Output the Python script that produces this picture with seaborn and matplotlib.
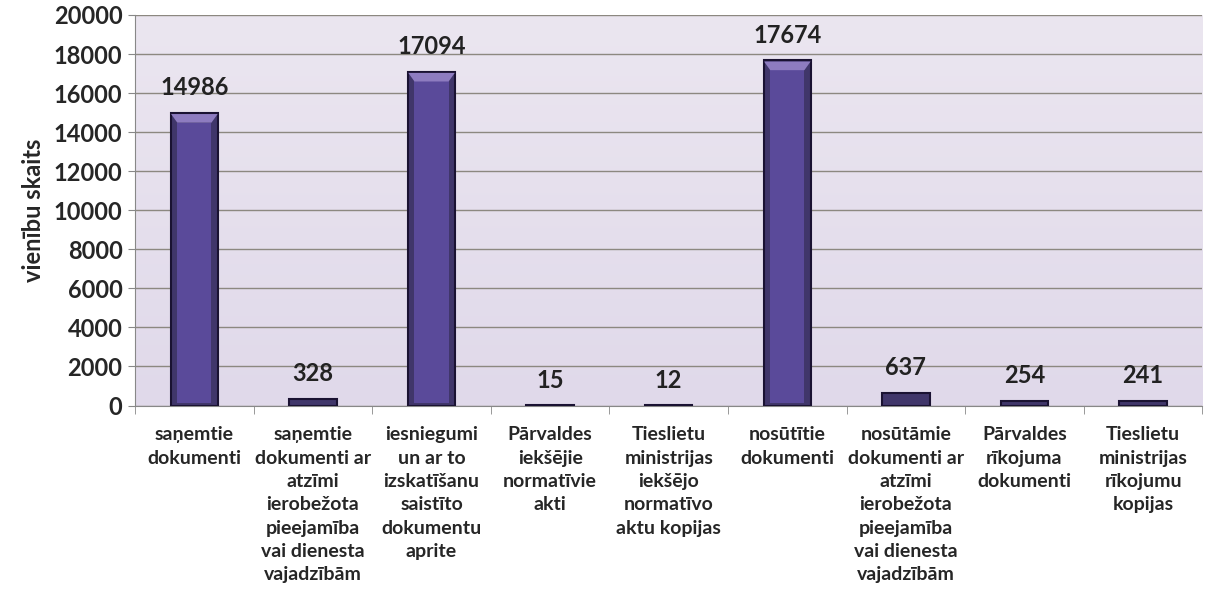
import numpy as np
import pandas as pd
import seaborn as sns
import matplotlib.pyplot as plt

# Données du graphique
kategorijas = [
    "saņemtie\ndokumenti",
    "saņemtie\ndokumenti ar\natzīmi\nierobežota\npieejamība\nvai dienesta\nvajadzībām",
    "iesniegumi\nun ar to\nizskatīšanu\nsaistīto\ndokumentu\naprite",
    "Pārvaldes\niekšējie\nnormatīvie\nakti",
    "Tieslietu\nministrijas\niekšējo\nnormatīvo\naktu kopijas",
    "nosūtītie\ndokumenti",
    "nosūtāmie\ndokumenti ar\natzīmi\nierobežota\npieejamība\nvai dienesta\nvajadzībām",
    "Pārvaldes\nrīkojuma\ndokumenti",
    "Tieslietu\nministrijas\nrīkojumu\nkopijas",
]
vertibas = [14986, 328, 17094, 15, 12, 17674, 637, 254, 241]
y_ticks = list(range(0, 20001, 2000))

df = pd.DataFrame({"kategorija": kategorijas, "skaits": vertibas})

sns.set_style("white")
plt.rcParams["font.family"] = ["Lato", "DejaVu Sans"]
plt.rcParams["font.weight"] = "bold"

fig = plt.figure(figsize=(12.06, 5.99), dpi=100)
ax = fig.add_axes([0.112, 0.323, 0.885, 0.652])

# Fond dégradé lavande
grad = np.linspace(0, 1, 256).reshape(-1, 1)
ax.imshow(grad, extent=[-0.5, 8.5, 0, 20000], aspect="auto",
          cmap=plt.matplotlib.colors.LinearSegmentedColormap.from_list(
              "bg", ["#ebe6f0", "#e0d9ea"]), zorder=0)

sns.barplot(data=df, x="kategorija", y="skaits", color="#3b2e72",
            width=0.4, edgecolor="#1a1232", linewidth=1.5, ax=ax, zorder=3)

# effet biseauté : intérieur plus clair, reflet en haut
for p in list(ax.patches):
    x0, w, h = p.get_x(), p.get_width(), p.get_height()
    if h > 1500:
        ax.add_patch(plt.Rectangle((x0 + w * 0.14, 150), w * 0.72, h - 650,
                                   facecolor="#5a4a9a", edgecolor="none",
                                   zorder=3.5))
        ax.add_patch(plt.Polygon([(x0 + 0.004, h - 60), (x0 + w - 0.004, h - 60),
                                  (x0 + w * 0.86, h - 500), (x0 + w * 0.14, h - 500)],
                                 facecolor="#8e7cc0", edgecolor="none", zorder=3.6))

for i, v in enumerate(vertibas):
    ax.text(i, v + 700, str(v), ha="center", va="bottom",
            fontsize=17, fontweight="bold", color="#222222")

ax.set_xlim(-0.5, 8.5)
ax.set_ylim(0, 20000)
ax.set_yticks(y_ticks)
ax.yaxis.grid(True, color="#8c8880", linewidth=1.0, zorder=1)
for line in ax.get_ygridlines():
    line.set_zorder(1)

ax.set_xlabel("")
ax.set_ylabel("vienību skaits", fontsize=17, fontweight="bold", labelpad=6)
ax.tick_params(axis="y", labelsize=17, length=5, color="#888888", left=True, pad=4)
ax.tick_params(axis="x", labelsize=14, length=0, pad=15)
for lbl in ax.get_xticklabels():
    lbl.set_linespacing(1.45)

ax.set_xticks(np.arange(-0.5, 9, 1), minor=True)
ax.tick_params(axis="x", which="minor", length=6, color="#888888", bottom=True)

for s in ["top", "right"]:
    ax.spines[s].set_visible(False)
ax.spines["left"].set_color("#888888")
ax.spines["bottom"].set_color("#888888")

plt.savefig("out.png", dpi=100)
